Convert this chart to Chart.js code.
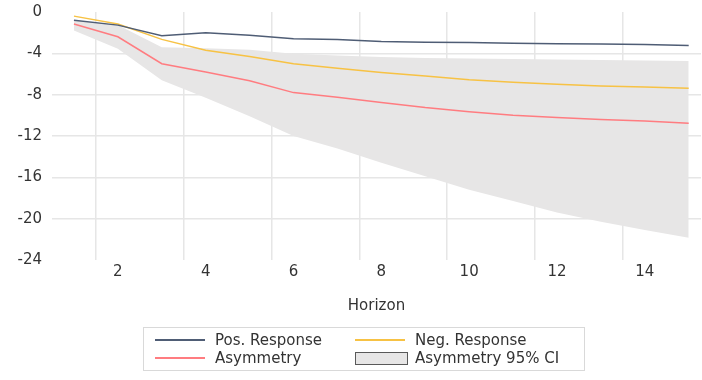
<!DOCTYPE html>
<html>
<head>
<meta charset="utf-8">
<script src="https://cdn.jsdelivr.net/npm/chart.js@4/dist/chart.umd.min.js"></script>
<style>
  html, body { margin: 0; padding: 0; background: #fff; }
  .wrap { position: relative; width: 702px; height: 380px; }
  #legend {
    position: absolute; left: 143px; top: 327px; width: 442px; height: 44px;
    border: 1px solid #d9d9d9; box-sizing: border-box;
    font-family: "DejaVu Sans", sans-serif; font-size: 15px; color: #333;
  }
  .item { position: absolute; height: 18px; line-height: 18px; white-space: nowrap; }
  .swatch { position: absolute; top: 8px; width: 50px; height: 2px; }
  .box { position: absolute; top: 3px; width: 51px; height: 11px; border: 1px solid #595959; background: #e7e6e6; }
  .item span.t { position: absolute; left: 60px; }
</style>
</head>
<body>
<div class="wrap">
  <canvas id="chart" width="702" height="380"></canvas>
  <div id="legend"></div>
</div>
<script>
// horizon steps and responses
const horizon = [1, 2, 3, 4, 5, 6, 7, 8, 9, 10, 11, 12, 13, 14, 15];
const posResponse = [-0.8, -1.27, -2.3, -2.0, -2.25, -2.6, -2.65, -2.85, -2.93, -2.95, -3.02, -3.08, -3.1, -3.15, -3.25];
const negResponse = [-0.4, -1.17, -2.65, -3.7, -4.3, -5.0, -5.45, -5.85, -6.2, -6.55, -6.8, -7.0, -7.15, -7.25, -7.38];
const asymmetry = [-1.17, -2.4, -5.0, -5.8, -6.65, -7.8, -8.25, -8.75, -9.25, -9.65, -9.98, -10.2, -10.4, -10.55, -10.76];
const ciUpper = [-0.8, -1.25, -3.4, -3.5, -3.65, -4.05, -4.2, -4.35, -4.45, -4.5, -4.55, -4.6, -4.65, -4.7, -4.75];
const ciLower = [-1.8, -3.55, -6.6, -8.3, -10.1, -12.0, -13.2, -14.6, -15.9, -17.2, -18.3, -19.4, -20.3, -21.1, -21.85];

const xTickLabels = [2, 4, 6, 8, 10, 12, 14];
const yTicks = [0, -4, -8, -12, -16, -20, -24];

const labels = {
  pos: 'Pos. Response',
  neg: 'Neg. Response',
  asym: 'Asymmetry',
  ci: 'Asymmetry 95% CI'
};

const colors = { pos: '#4f5d75', neg: '#f7c244', asym: '#ff7c80', band: '#e7e6e6' };

const toPoints = arr => arr.map((v, i) => ({ x: horizon[i], y: v }));
const textColor = '#333';
const gridColor = '#e6e6e6';
const font = { family: 'DejaVu Sans', size: 15 };

const chart = new Chart(document.getElementById('chart'), {
  type: 'line',
  data: {
    datasets: [
      { label: labels.pos, data: toPoints(posResponse), borderColor: colors.pos, borderWidth: 1.5, pointRadius: 0, fill: false },
      { label: labels.neg, data: toPoints(negResponse), borderColor: colors.neg, borderWidth: 1.5, pointRadius: 0, fill: false },
      { label: labels.asym, data: toPoints(asymmetry), borderColor: colors.asym, borderWidth: 1.5, pointRadius: 0, fill: false },
      { label: labels.ci + ' upper', data: toPoints(ciUpper), borderWidth: 0, borderColor: 'rgba(0,0,0,0)', pointRadius: 0, fill: false },
      { label: labels.ci, data: toPoints(ciLower), borderWidth: 0, borderColor: 'rgba(0,0,0,0)', backgroundColor: colors.band, pointRadius: 0, fill: '-1' }
    ]
  },
  options: {
    responsive: false,
    animation: false,
    layout: { padding: { top: 12, right: 1, bottom: 65, left: 0 } },
    plugins: { legend: { display: false }, tooltip: { enabled: false } },
    elements: { line: { tension: 0 } },
    scales: {
      x: {
        type: 'linear',
        min: 0.5,
        max: 15.28,
        afterBuildTicks: scale => {
          const ticks = [];
          xTickLabels.forEach(v => { ticks.push({ value: v - 0.5 }); ticks.push({ value: v }); });
          scale.ticks = ticks;
        },
        ticks: {
          autoSkip: false,
          maxRotation: 0,
          padding: 3,
          color: textColor,
          font: font,
          callback: v => Number.isInteger(v) ? String(v) : ''
        },
        grid: {
          drawTicks: false,
          lineWidth: 1.5,
          color: ctx => (ctx.tick && Number.isInteger(ctx.tick.value)) ? 'rgba(0,0,0,0)' : gridColor
        },
        border: { display: false },
        title: { display: true, text: 'Horizon', color: textColor, font: font, padding: { top: 13, bottom: 0 } }
      },
      y: {
        min: -24,
        max: 0,
        afterBuildTicks: scale => { scale.ticks = yTicks.map(v => ({ value: v })); },
        afterFit: scale => { scale.width = 52; scale.paddingTop = 0; scale.paddingBottom = 0; },
        ticks: { padding: 10, color: textColor, font: font },
        grid: {
          drawTicks: false,
          lineWidth: 1.5,
          color: ctx => (ctx.tick && (ctx.tick.value === 0 || ctx.tick.value === -24)) ? 'rgba(0,0,0,0)' : gridColor
        },
        border: { display: false }
      }
    }
  }
});

// legend laid out as in the picture: two rows, two columns
const legendItems = [
  { text: labels.pos, color: colors.pos, left: 11, top: 3 },
  { text: labels.neg, color: colors.neg, left: 211, top: 3 },
  { text: labels.asym, color: colors.asym, left: 11, top: 21 },
  { text: labels.ci, box: true, left: 211, top: 21 }
];
const legend = document.getElementById('legend');
legendItems.forEach(it => {
  const d = document.createElement('div');
  d.className = 'item';
  d.style.left = it.left + 'px';
  d.style.top = it.top + 'px';
  const s = document.createElement('div');
  if (it.box) { s.className = 'box'; } else { s.className = 'swatch'; s.style.backgroundColor = it.color; }
  d.appendChild(s);
  const t = document.createElement('span');
  t.className = 't';
  t.textContent = it.text;
  d.appendChild(t);
  legend.appendChild(d);
});
</script>
</body>
</html>
